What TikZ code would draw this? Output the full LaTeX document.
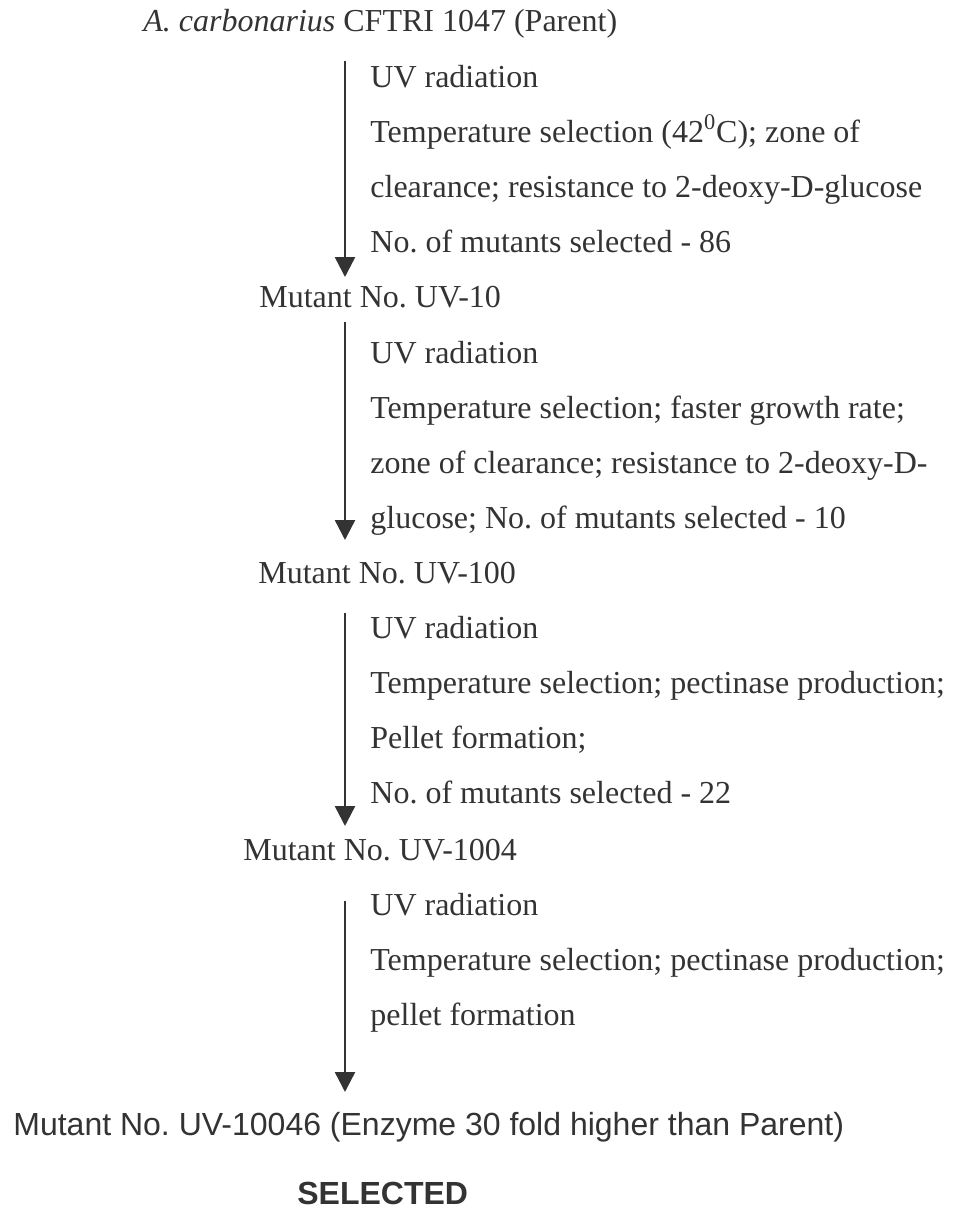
\documentclass[tikz,border=0pt]{standalone}
\usepackage{fontspec}
\setmainfont{Liberation Serif}
\setsansfont{Liberation Sans}
\usepackage{xcolor}
\usepackage{tikz}
\usetikzlibrary{arrows.meta}
\definecolor{ink}{HTML}{333333}
\frenchspacing

\begin{document}
\begin{tikzpicture}[
  x=0.5pt, y=-0.5pt,
  font=\fontsize{16}{19}\selectfont, text=ink,
  tx/.style={anchor=base west, inner sep=0pt},
  sf/.style={tx, font=\fontsize{16}{19}\selectfont\sffamily},
  ar/.style={-{Triangle[width=10pt,length=10pt]}, line width=1.2pt, draw=ink}
]
\useasboundingbox (0,0) rectangle (958,1210);
% parent strain
\node[tx] (par) at (143,32) {\textit{A. carbonarius} CFTRI 1047 (Parent)};
% round 1
\coordinate (s1) at (345,61);
\coordinate (e1) at (345,277);
\node[tx] (r1a) at (370,87)  {UV radiation};
\node[tx] (r1b) at (370,142) {Temperature selection (42\textsuperscript{0}C); zone of};
\node[tx] (r1c) at (370,197) {clearance; resistance to 2-deoxy-D-glucose};
\node[tx] (r1d) at (370,252) {No. of mutants selected - 86};
\node[tx] (uv10) at (259,307) {Mutant No. UV-10};
% round 2
\coordinate (s2) at (345,322);
\coordinate (e2) at (345,540);
\node[tx] (r2a) at (370,363) {UV radiation};
\node[tx] (r2b) at (370,418) {Temperature selection; faster growth rate;};
\node[tx] (r2c) at (370,473) {zone of clearance; resistance to 2-deoxy-D-};
\node[tx] (r2d) at (370,528) {glucose; No. of mutants selected - 10};
\node[tx] (uv100) at (258,583) {Mutant No. UV-100};
% round 3
\coordinate (s3) at (345,613);
\coordinate (e3) at (345,826);
\node[tx] (r3a) at (370,638) {UV radiation};
\node[tx] (r3b) at (370,693) {Temperature selection; pectinase production;};
\node[tx] (r3c) at (370,748) {Pellet formation;};
\node[tx] (r3d) at (370,803) {No. of mutants selected - 22};
\node[tx] (uv1004) at (243,860) {Mutant No. UV-1004};
% round 4
\coordinate (s4) at (345,901);
\coordinate (e4) at (345,1092);
\node[tx] (r4a) at (370,915)  {UV radiation};
\node[tx] (r4b) at (370,970)  {Temperature selection; pectinase production;};
\node[tx] (r4c) at (370,1025) {pellet formation};
% result
\node[sf] (uv10046) at (13,1135) {Mutant No. UV-10046 (Enzyme 30 fold higher than Parent)};
\node[sf, font=\fontsize{16}{19}\selectfont\sffamily\bfseries] (sel) at (297,1204) {SELECTED};
% arrows
\draw[ar] (s1) -- (e1);
\draw[ar] (s2) -- (e2);
\draw[ar] (s3) -- (e3);
\draw[ar] (s4) -- (e4);
\end{tikzpicture}
\end{document}
